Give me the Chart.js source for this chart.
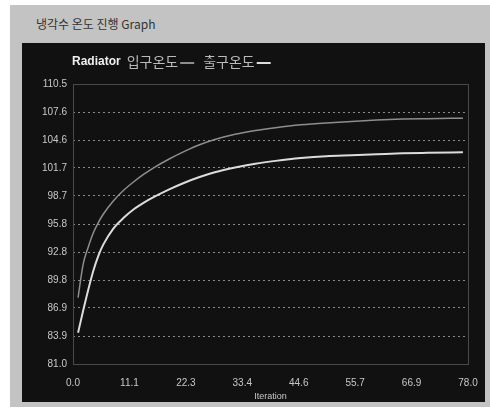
<!DOCTYPE html>
<html>
<head>
<meta charset="utf-8">
<script src="https://cdn.jsdelivr.net/npm/chart.js@4"></script>
<style>
  html, body { margin: 0; padding: 0; background: #fff; }
  #panel {
    position: absolute; left: 10px; top: 5px; width: 480px; height: 402px;
    background: #c3c3c3;
  }
  #caption {
    position: absolute; left: 26px; top: 10px;
    font: 12px "Noto Sans CJK KR", "Liberation Sans", sans-serif; color: #333;
  }
  #box {
    position: absolute; left: 12px; top: 38px; width: 463px; height: 359px;
    background: #111;
  }
</style>
</head>
<body>
<div id="panel">
  <div id="caption">냉각수 온도 진행 Graph</div>
  <div id="box"><canvas id="grafica" width="463" height="359"></canvas></div>
</div>
<script>
const iterations = [1, 2, 3, 4, 5, 6, 8, 10, 12, 14, 16, 19, 22, 25, 28, 32, 36, 40, 45, 50, 55, 60, 65, 70, 77];
const inletTemp  = [88.0, 91.5, 93.3, 94.8, 95.9, 96.8, 98.2, 99.3, 100.2, 101.0, 101.7, 102.6, 103.4, 104.1, 104.65, 105.2, 105.6, 105.9, 106.2, 106.4, 106.55, 106.7, 106.8, 106.85, 106.9];
const outletTemp = [84.3, 86.6, 88.8, 90.8, 92.4, 93.6, 95.3, 96.4, 97.3, 98.0, 98.6, 99.4, 100.1, 100.7, 101.2, 101.7, 102.1, 102.4, 102.7, 102.9, 103.0, 103.1, 103.2, 103.25, 103.3];

const yTicks = [81.0, 83.95, 86.9, 89.85, 92.8, 95.75, 98.7, 101.65, 104.6, 107.55, 110.5];
const yTickLabels = ['81.0', '83.9', '86.9', '89.8', '92.8', '95.8', '98.7', '101.7', '104.6', '107.6', '110.5'];
const xTicks = [0, 78 / 7, 156 / 7, 234 / 7, 312 / 7, 390 / 7, 468 / 7, 78];
const xTickLabels = ['0.0', '11.1', '22.3', '33.4', '44.6', '55.7', '66.9', '78.0'];

const toPoints = vals => vals.map((v, i) => ({ x: iterations[i], y: v }));

const dataset1 = {
    label: '입구온도',
    data: toPoints(inletTemp),
    borderColor: '#8e8e8e',
    borderWidth: 1.5,
    pointRadius: 0,
    fill: false,
    cubicInterpolationMode: 'monotone'
};

const dataset2 = {
    label: '출구온도',
    data: toPoints(outletTemp),
    borderColor: '#dcdcdc',
    borderWidth: 2,
    pointRadius: 0,
    fill: false,
    cubicInterpolationMode: 'monotone'
};

// header line: "Radiator" then each series name followed by a short line in its colour
const header = {
    id: 'header',
    afterDraw(chart) {
        const ctx = chart.ctx;
        ctx.save();
        ctx.textBaseline = 'middle';
        let x = 50;
        const y = 19;
        ctx.font = 'bold 12px "Liberation Sans", Arial, sans-serif';
        ctx.fillStyle = '#f0f0f0';
        ctx.fillText('Radiator', x, y);
        x += ctx.measureText('Radiator').width + 6;
        ctx.font = '14px "Noto Sans CJK KR", sans-serif';
        chart.data.datasets.forEach(ds => {
            ctx.fillStyle = '#bbb';
            ctx.fillText(ds.label, x, y);
            x += ctx.measureText(ds.label).width + 2;
            ctx.strokeStyle = ds.borderColor;
            ctx.lineWidth = 2;
            ctx.beginPath();
            ctx.moveTo(x, y + 1);
            ctx.lineTo(x + 14, y + 1);
            ctx.stroke();
            x += 23;
        });
        ctx.restore();
    }
};

// plot area outline
const frame = {
    id: 'frame',
    beforeDatasetsDraw(chart) {
        const a = chart.chartArea;
        const ctx = chart.ctx;
        ctx.save();
        ctx.strokeStyle = '#4a4a4a';
        ctx.lineWidth = 1;
        ctx.strokeRect(a.left + 0.5, a.top + 0.5, a.right - a.left, a.bottom - a.top);
        ctx.restore();
    }
};

const graph = document.querySelector('#grafica');

new Chart(graph, {
    type: 'line',
    data: { datasets: [dataset1, dataset2] },
    options: {
        responsive: false,
        animation: false,
        layout: { padding: { top: 41, right: 17, left: 0, bottom: 0 } },
        plugins: { legend: { display: false }, tooltip: { enabled: false } },
        scales: {
            x: {
                type: 'linear',
                min: 0,
                max: 78,
                afterBuildTicks: s => { s.ticks = xTicks.map(v => ({ value: v })); },
                afterFit: s => { s.height = 38; },
                ticks: {
                    color: '#c8c8c8',
                    padding: 5,
                    maxRotation: 0,
                    font: { size: 10, family: '"Liberation Sans", Arial, sans-serif' },
                    callback: (v, i) => xTickLabels[i]
                },
                grid: { display: false },
                border: { display: false },
                title: {
                    display: true,
                    text: 'Iteration',
                    color: '#c8c8c8',
                    padding: 0,
                    font: { size: 9, family: '"Liberation Sans", Arial, sans-serif' }
                }
            },
            y: {
                min: 81,
                max: 110.5,
                afterBuildTicks: s => { s.ticks = yTicks.map(v => ({ value: v })); },
                afterFit: s => { s.width = 51; },
                ticks: {
                    color: '#c8c8c8',
                    padding: 6,
                    font: { size: 10, family: '"Liberation Sans", Arial, sans-serif' },
                    callback: (v, i) => yTickLabels[i]
                },
                grid: {
                    drawTicks: false,
                    color: c => (c.index === 0 || c.index === yTicks.length - 1) ? 'transparent' : '#8a8a8a',
                    lineWidth: 1
                },
                border: { display: false, dash: [2, 3] }
            }
        }
    },
    plugins: [header, frame]
});
</script>
</body>
</html>
